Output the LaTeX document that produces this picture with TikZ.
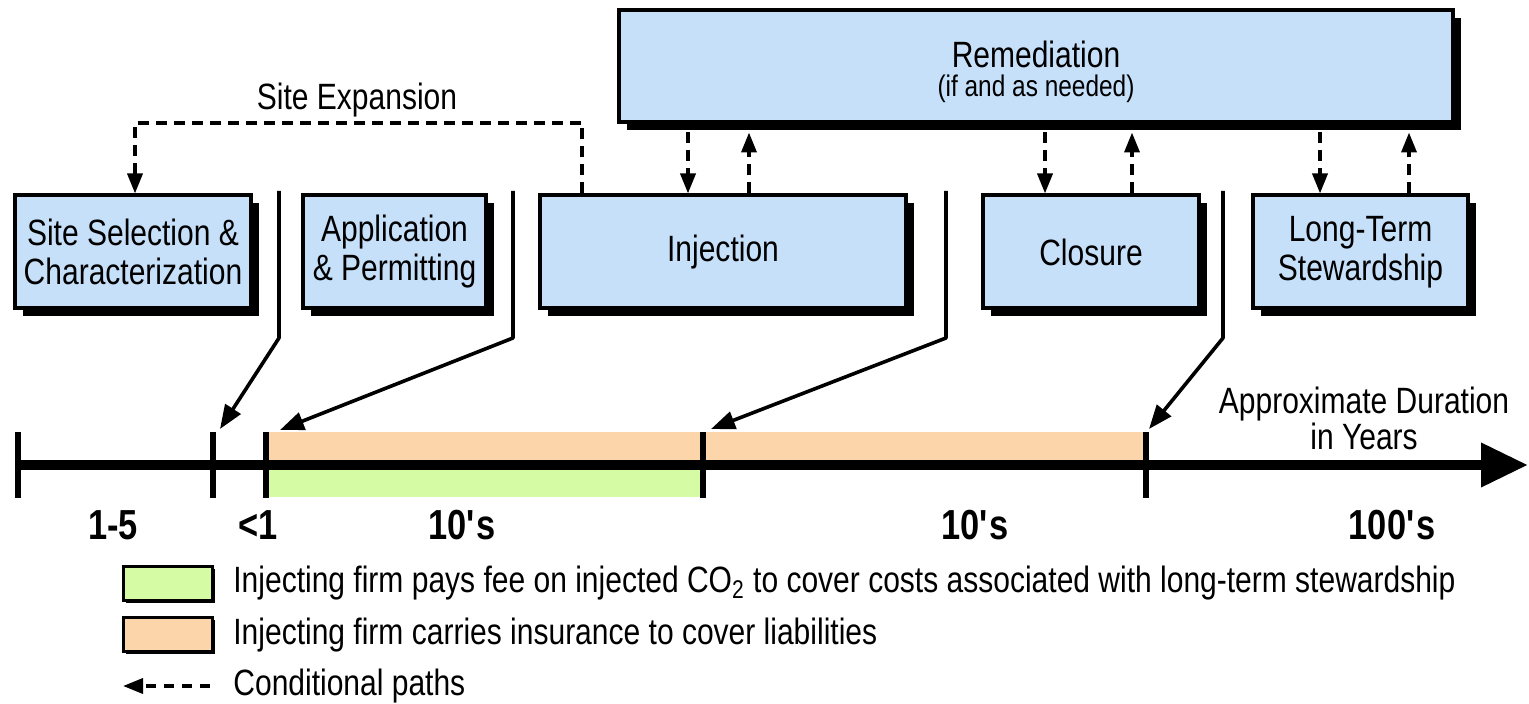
\documentclass[tikz,border=0pt]{standalone}
\usepackage{fontspec}
\setmainfont[FakeStretch=0.82]{Liberation Sans}
\usetikzlibrary{arrows.meta,shadows}
\definecolor{boxblue}{RGB}{198,224,250}
\definecolor{orng}{RGB}{253,213,170}
\definecolor{grn}{RGB}{213,251,165}
\begin{document}
\begin{tikzpicture}[x=0.5pt,y=-0.5pt,
 phase/.style={draw=black, line width=2pt, fill=boxblue, rectangle, align=center, inner sep=0pt,
   drop shadow={shadow xshift=4pt, shadow yshift=-4pt, opacity=1, fill=black},
   font=\fontsize{18.3}{19.5}\selectfont},
 cond/.style={line width=1.8pt, dash pattern=on 5.5pt off 3.5pt, -{Triangle[length=10pt,width=7.5pt]}},
 tl/.style={line width=1.8pt, line join=round, -{Triangle[length=12pt,width=9pt]}},
 tickline/.style={line width=3.2pt},
 lbl/.style={font=\fontsize{18.3}{19.5}\selectfont},
 num/.style={font=\fontsize{21}{24}\selectfont\bfseries},
 legbox/.style={draw=black, line width=1.6pt, minimum width=44.5pt, minimum height=17pt, inner sep=0pt,
   drop shadow={shadow xshift=1.2pt, shadow yshift=-1.2pt, opacity=1, fill=black}},
]
\useasboundingbox (0,0) rectangle (1529,704);

% phase boxes
\node[phase, minimum width=118pt, minimum height=56.5pt] (site) at (133,252) {Site Selection \&\\Characterization};
\node[phase, minimum width=91.5pt, minimum height=56.5pt] (app) at (394.5,252) {Application\\\& Permitting};
\node[phase, minimum width=183pt, minimum height=56.5pt] (inj) at (723,252) {Injection};
\node[phase, minimum width=108pt, minimum height=56.5pt] (clo) at (1091,252) {Closure};
\node[phase, minimum width=107.5pt, minimum height=56.5pt] (lts) at (1360.5,252) {Long-Term\\Stewardship};
\node[phase, minimum width=417pt, minimum height=56pt] (rem) at (1036,66.5) {};
\node[lbl, inner sep=0pt] (remT) at (1036,54) {Remediation};
\node[font=\fontsize{14.9}{16}\selectfont, inner sep=0pt] (remS) at (1036,89) {(if and as needed)};

% site expansion
\coordinate (expL) at (135,123);
\coordinate (expR) at (582,123);
\draw[cond] (inj.north -| expR) -- (expR) -- (expL) -- (site.north -| expL);
\node[lbl] (sexp) at (357,100) {Site Expansion};

% remediation links
\foreach \xa/\xb/\n in {688/749/inj, 1045/1132/clo, 1320/1409/lts} {
  \coordinate (ca) at (\xa,0);
  \coordinate (cb) at (\xb,0);
  \draw[cond, shorten <=4pt] (rem.south -| ca) -- (\n.north -| ca);
  \draw[cond, shorten >=4pt] (\n.north -| cb) -- (rem.south -| cb);
}

% timeline bands
\fill[orng] (266,432) rectangle (1146,465);
\fill[grn] (266,465) rectangle (703,497);
\coordinate (ax0) at (18,465);
\coordinate (ax1) at (1528,465);
\draw[line width=5pt, -{Triangle[length=23.5pt,width=21pt]}] (ax0) -- (ax1);
\foreach \x in {18,213,266,703,1146} \draw[tickline] (\x,432) -- (\x,498);

% phase boundary pointers
\coordinate (v1) at (279,191); \coordinate (v1b) at (279,338); \coordinate (p1) at (220,429);
\coordinate (v2) at (513,191); \coordinate (v2b) at (513,338); \coordinate (p2) at (280,430);
\coordinate (v3) at (946,191); \coordinate (v3b) at (946,338); \coordinate (p3) at (711,429);
\coordinate (v4) at (1223,191); \coordinate (v4b) at (1223,338); \coordinate (p4) at (1149,429);
\draw[tl] (v1) -- (v1b) -- (p1);
\draw[tl] (v2) -- (v2b) -- (p2);
\draw[tl] (v3) -- (v3b) -- (p3);
\draw[tl] (v4) -- (v4b) -- (p4);

% duration labels
\node[num] (d1) at (113,525) {1-5};
\node[num] (d2) at (258,525) {<1};
\node[num] (d3) at (462,525) {10\textquotesingle s};
\node[num] (d4) at (975,525) {10\textquotesingle s};
\node[num] (d5) at (1392,525) {100\textquotesingle s};
\node[font=\fontsize{18.3}{16}\selectfont, align=center] (dur) at (1364,418) {Approximate Duration\\in Years};

% legend
\node[legbox, fill=grn] (lg1) at (168,583.5) {};
\node[legbox, fill=orng] (lg2) at (168,634.5) {};
\node[lbl, anchor=west, inner sep=0pt] (lt1) at (233,583) {Injecting firm pays fee on injected CO\textsubscript{2} to cover costs associated with long-term stewardship};
\node[lbl, anchor=west, inner sep=0pt] (lt2) at (233,635) {Injecting firm carries insurance to cover liabilities};
\node[lbl, anchor=west, inner sep=0pt] (lt3) at (233,686) {Conditional paths};
\coordinate (la1) at (210,686);
\coordinate (la0) at (123,686);
\draw[cond, dash pattern=on 5pt off 4pt] (la1) -- (la0);
\end{tikzpicture}
\end{document}
